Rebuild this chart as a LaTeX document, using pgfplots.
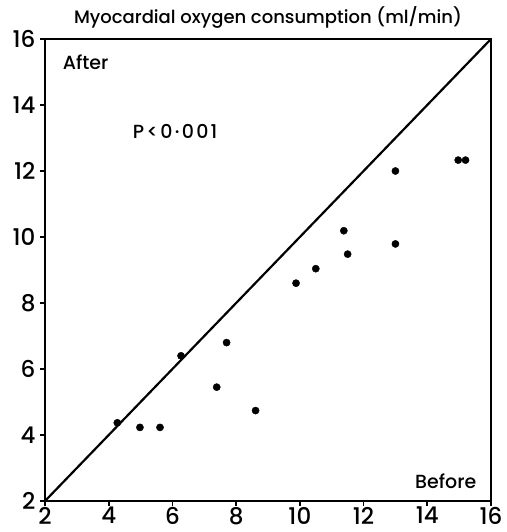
\documentclass[border=0pt]{standalone}
\usepackage{pgfplots}
\pgfplotsset{compat=1.18}
\usetikzlibrary{calc}
\usepackage{fontspec}
\setmainfont{Poppins}[UprightFont=* Medium]
\begin{document}
\begin{tikzpicture}
\begin{axis}[
  width=446pt, height=462pt, scale only axis=true,
  xmin=2, xmax=16, ymin=2, ymax=16,
  xtick={2,4,...,16}, ytick={2,4,...,16},
  axis line style={line width=2pt},
  tick style={line width=1.8pt, black},
  tick align=outside, major tick length=5pt,
  xtick pos=bottom, ytick pos=left,
  /pgf/number format/assume math mode=true,
  ticklabel style={font=\fontsize{23}{25}\selectfont},
  xticklabel style={yshift=2.5pt},
  yticklabel style={xshift=-1pt},
  title={Myocardial oxygen consumption (ml/min)},
  title style={font=\fontsize{18}{20}\selectfont, at={(0.5,1)}, anchor=south, yshift=1pt},
  clip=false,
]
\addplot[black, line width=2.2pt] coordinates {(2,2) (16,16)};
\addplot[only marks, mark=*, mark size=3.6pt, black] coordinates {
(14.97,12.33) (15.2,12.33) (13.0,12.0) (11.38,10.19) (13.0,9.79)
(11.5,9.48) (10.5,9.04) (9.88,8.6) (7.7,6.8) (6.27,6.4)
(7.39,5.45) (8.61,4.74) (4.27,4.37) (4.98,4.23) (5.61,4.23)
};
\node[anchor=west, font=\fontsize{19}{21}\selectfont] at (axis cs:2.45,15.3) {After};
\node[anchor=west, font=\fontsize{19}{21}\selectfont\addfontfeatures{LetterSpace=12}] at (axis cs:4.65,13.2) {P<0·001};
\node[anchor=east, font=\fontsize{19}{21}\selectfont] at (axis cs:15.65,2.6) {Before};
\end{axis}
\pgfresetboundingbox
\path[use as bounding box] ($(current axis.south west)+(-45pt,-31pt)$) rectangle ($(current axis.north east)+(15pt,39pt)$);
\end{tikzpicture}
\end{document}
